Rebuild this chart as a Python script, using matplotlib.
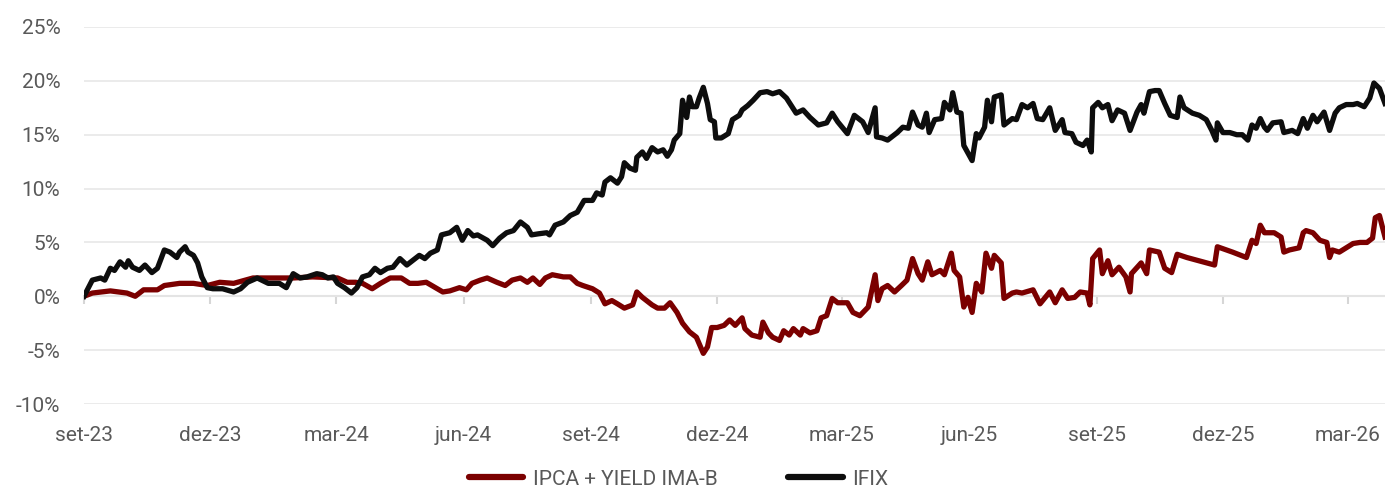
import pandas as pd
import matplotlib
matplotlib.use("Agg")
import matplotlib.pyplot as plt
from matplotlib.ticker import FuncFormatter

plt.rcParams['font.family'] = ['Roboto', 'DejaVu Sans']

START = pd.Timestamp('2023-09-01')

# IFIX: days since 2023-09-01, accumulated return (%)
ifix_day = [0, 6, 12, 15, 19, 22, 26, 30, 32, 35, 40, 44, 49, 53, 58, 62, 67, 69, 73, 75,
            79, 82, 85, 89, 93, 100, 108, 113, 118, 125, 133, 141, 146, 151, 156, 161, 168, 172, 176, 180,
            183, 188, 193, 197, 201, 206, 210, 214, 219, 223, 228, 233, 237, 242, 246, 250, 255, 258, 264, 269,
            273, 277, 281, 284, 291, 295, 300, 305, 310, 315, 320, 323, 328, 334, 336, 340, 346, 351, 356, 361,
            367, 370, 374, 376, 380, 385, 388, 390, 394, 398, 399, 403, 406, 410, 414, 418, 421, 424, 426, 430,
            432, 435, 437, 439, 442, 444, 447, 450, 452, 455, 456, 460, 465, 468, 473, 475, 479, 483, 488, 493,
            497, 502, 507, 511, 514, 519, 524, 530, 536, 540, 544, 551, 556, 562, 566, 571, 572, 576, 580, 587,
            591, 595, 598, 602, 605, 608, 610, 614, 619, 621, 625, 627, 630, 633, 635, 638, 641, 644, 646, 650,
            652, 655, 657, 662, 664, 670, 673, 677, 681, 685, 688, 692, 697, 701, 706, 708, 713, 716, 721, 724,
            727, 728, 732, 735, 739, 742, 746, 751, 755, 760, 763, 765, 769, 773, 776, 780, 784, 789, 791, 794,
            800, 805, 810, 814, 817, 818, 822, 827, 832, 836, 840, 843, 846, 849, 852, 854, 858, 864, 866, 872,
            876, 880, 883, 887, 890, 895, 899, 903, 906, 911, 916, 919, 924, 928, 931, 935, 939]
ifix_val = [0.0, 1.5, 1.7, 1.5, 2.6, 2.4, 3.2, 2.7, 3.3, 2.7, 2.4, 2.9, 2.2, 2.6, 4.3, 4.1, 3.6, 4.1, 4.6, 4.1,
            3.8, 3.1, 1.8, 0.8, 0.7, 0.7, 0.4, 0.7, 1.3, 1.7, 1.2, 1.2, 0.8, 2.1, 1.7, 1.8, 2.1, 2.0, 1.7, 1.8,
            1.2, 0.8, 0.3, 0.8, 1.8, 2.0, 2.6, 2.2, 2.6, 2.7, 3.5, 2.9, 3.3, 3.8, 3.5, 4.0, 4.3, 5.7, 5.9, 6.4,
            5.2, 6.1, 5.6, 5.7, 5.2, 4.7, 5.4, 5.9, 6.1, 6.9, 6.4, 5.7, 5.8, 5.9, 5.7, 6.6, 6.9, 7.5, 7.8, 8.9,
            8.9, 9.6, 9.4, 10.6, 11.0, 10.5, 11.1, 12.4, 11.9, 11.7, 12.9, 13.4, 12.8, 13.8, 13.4, 13.6, 13.0, 13.6, 14.5, 15.1,
            18.2, 16.6, 18.5, 17.6, 17.6, 18.4, 19.4, 17.9, 16.4, 16.2, 14.7, 14.7, 15.1, 16.4, 16.8, 17.3, 17.7, 18.2, 18.9, 19.0,
            18.8, 19.0, 18.4, 17.6, 17.0, 17.3, 16.6, 15.9, 16.1, 17.0, 16.2, 15.1, 16.8, 16.2, 15.2, 17.5, 14.8, 14.7, 14.5, 15.2,
            15.7, 15.6, 17.1, 15.9, 15.7, 17.0, 15.2, 16.4, 16.5, 18.0, 17.3, 18.9, 17.1, 17.0, 14.0, 13.3, 12.6, 15.1, 14.7, 15.7,
            18.2, 16.2, 18.5, 18.7, 15.9, 16.5, 16.4, 17.8, 17.5, 17.9, 16.5, 16.4, 17.5, 15.4, 16.4, 15.2, 15.1, 14.3, 14.0, 14.5,
            13.4, 17.5, 18.0, 17.5, 17.8, 16.3, 17.3, 17.0, 15.4, 17.1, 17.8, 17.0, 19.0, 19.1, 19.1, 17.9, 16.8, 16.6, 18.5, 17.5,
            17.0, 16.8, 16.4, 15.4, 14.5, 16.1, 15.2, 15.2, 15.0, 15.0, 14.5, 15.9, 15.6, 16.5, 15.7, 15.4, 16.1, 16.2, 15.2, 15.4,
            15.1, 16.5, 15.6, 16.8, 16.2, 17.1, 15.4, 17.0, 17.5, 17.8, 17.8, 17.9, 17.6, 18.4, 19.8, 19.3, 17.9]

# IPCA + YIELD IMA-B: days since 2023-09-01, accumulated return (%)
ipca_day = [0, 6, 19, 31, 37, 43, 53, 58, 69, 79, 89, 98, 108, 122, 139, 151, 165, 183, 190, 196,
            201, 208, 214, 221, 229, 235, 241, 247, 255, 259, 264, 271, 276, 280, 286, 291, 298, 304, 309, 315,
            320, 324, 329, 333, 338, 346, 351, 356, 360, 367, 372, 376, 381, 385, 390, 396, 399, 403, 410, 414,
            419, 423, 428, 432, 437, 442, 444, 447, 450, 453, 457, 462, 466, 470, 475, 477, 482, 488, 490, 494,
            497, 502, 505, 509, 512, 517, 519, 524, 529, 532, 536, 540, 544, 551, 555, 560, 566, 569, 571, 573,
            576, 580, 585, 590, 594, 598, 602, 605, 609, 612, 618, 621, 626, 628, 632, 635, 638, 641, 644, 648,
            651, 655, 657, 662, 664, 670, 673, 677, 685, 690, 697, 701, 706, 710, 715, 719, 724, 726, 728, 733,
            735, 739, 742, 747, 752, 755, 756, 763, 767, 769, 776, 780, 785, 789, 796, 816, 818, 829, 839, 843,
            846, 849, 852, 856, 859, 864, 866, 870, 877, 880, 882, 887, 892, 897, 899, 901, 906, 911, 916, 921,
            926, 930, 932, 935, 939]
ipca_val = [0.0, 0.3, 0.5, 0.3, 0.0, 0.6, 0.6, 1.0, 1.2, 1.2, 1.0, 1.3, 1.2, 1.7, 1.7, 1.7, 1.8, 1.7, 1.3, 1.3,
            1.2, 0.7, 1.2, 1.7, 1.7, 1.2, 1.2, 1.3, 0.7, 0.4, 0.5, 0.8, 0.6, 1.2, 1.5, 1.7, 1.3, 1.0, 1.5, 1.7,
            1.3, 1.7, 1.1, 1.7, 2.0, 1.8, 1.8, 1.2, 1.0, 0.7, 0.3, -0.7, -0.4, -0.7, -1.1, -0.8, 0.4, -0.1, -0.8, -1.1,
            -1.1, -0.6, -1.5, -2.5, -3.3, -3.8, -4.4, -5.3, -4.7, -2.9, -2.9, -2.7, -2.2, -2.7, -2.0, -3.0, -3.6, -3.8, -2.4, -3.4,
            -3.8, -4.1, -3.2, -3.6, -3.0, -3.6, -3.0, -3.4, -3.2, -2.0, -1.8, -0.2, -0.6, -0.6, -1.5, -1.8, -1.0, 0.8, 2.0, -0.4,
            0.7, 1.0, 0.4, 1.0, 1.5, 3.5, 2.1, 1.5, 3.2, 2.0, 2.4, 2.0, 4.0, 2.4, 1.8, -1.0, -0.1, -1.5, 1.2, 0.4,
            4.0, 2.6, 3.8, 3.1, -0.2, 0.3, 0.4, 0.3, 0.6, -0.7, 0.4, -0.6, 0.6, -0.2, -0.1, 0.4, 0.3, -0.8, 3.5, 4.3,
            2.1, 3.3, 2.0, 2.7, 1.8, 0.4, 2.1, 3.1, 2.1, 4.3, 4.1, 2.6, 2.2, 3.9, 3.6, 2.9, 4.6, 4.1, 3.6, 5.2,
            4.9, 6.6, 5.9, 5.9, 5.9, 5.5, 4.1, 4.3, 4.5, 5.9, 6.1, 5.9, 5.2, 5.0, 3.6, 4.3, 4.1, 4.5, 4.9, 5.0,
            5.0, 5.4, 7.3, 7.5, 5.5]

tick_dates = pd.date_range('2023-09-01', '2026-03-01', freq='3MS')
tick_labels = ['set-23', 'dez-23', 'mar-24', 'jun-24', 'set-24', 'dez-24',
               'mar-25', 'jun-25', 'set-25', 'dez-25', 'mar-26']

RED = '#7b0000'
BLACK = '#0d0d0d'
GRAY_TXT = '#595959'

ifix_dates = START + pd.to_timedelta(ifix_day, unit='D')
ipca_dates = START + pd.to_timedelta(ipca_day, unit='D')

fig = plt.figure(figsize=(13.85, 4.92), dpi=100)
ax = fig.add_axes([84 / 1385, 1 - 404 / 492, 1 - 84 / 1385, (404 - 27) / 492])

ax.plot(ipca_dates, ipca_val, color=RED, lw=3.8, solid_joinstyle='round',
        label='IPCA + YIELD IMA-B', zorder=3)
ax.plot(ifix_dates, ifix_val, color=BLACK, lw=3.8, solid_joinstyle='round',
        label='IFIX', zorder=4)

ax.set_ylim(-10, 25)
ax.set_yticks(range(-10, 26, 5))
ax.yaxis.set_major_formatter(FuncFormatter(lambda v, _: f'{v:.0f}%'))
ax.set_xlim(START, ifix_dates[-1])

ax.set_xticks(tick_dates)
ax.set_xticklabels(tick_labels)

for s in ax.spines.values():
    s.set_visible(False)
ax.grid(axis='y', color='#e8e8e8', lw=1.2)
ax.set_axisbelow(True)
ax.tick_params(axis='y', length=0, pad=17, labelsize=15, labelcolor=GRAY_TXT)
ax.tick_params(axis='x', length=0, pad=16, labelsize=15, labelcolor=GRAY_TXT)

# horizontal axis line at 0% with small tick marks
sec = ax.secondary_xaxis(10 / 35)
sec.set_xticks(tick_dates)
sec.set_xticklabels([])
sec.spines['bottom'].set_color('#d6d6d6')
sec.spines['bottom'].set_linewidth(1.5)
sec.tick_params(axis='x', length=6, width=1.5, color='#d6d6d6', direction='out')

fig.legend(loc='center', bbox_to_anchor=(0.49, 1 - 479 / 492), ncol=2, frameon=False,
           fontsize=15, handlelength=2.6, handleheight=0.8, columnspacing=3.4,
           labelcolor=GRAY_TXT, handletextpad=0.45, borderpad=0)
for line in fig.legends[0].get_lines():
    line.set_linewidth(4.5)
    line.set_solid_capstyle('round')

fig.savefig('out.png', dpi=100)
